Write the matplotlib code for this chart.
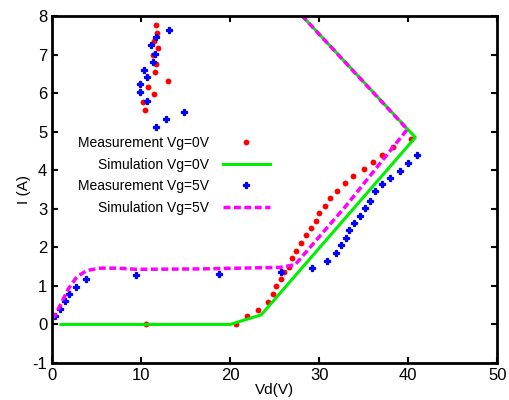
import matplotlib.pyplot as plt
import numpy as np

plt.rcParams['font.family'] = ['Liberation Sans', 'DejaVu Sans']
plt.rcParams['axes.unicode_minus'] = False

# Measurement Vg=0V (red)
meas0_x = [10.6, 20.7, 21.9, 23.1, 24.2, 24.8, 25.2, 25.7, 26.1, 26.6, 27.0, 27.4, 28.0,
           28.5, 29.1, 29.6, 30.0, 30.7, 31.2, 32.0, 32.9, 33.8, 35.0, 36.1, 37.1, 38.3, 40.3,
           11.65, 11.76, 11.4, 11.95, 11.3, 11.65, 11.57, 13.0, 10.8, 11.4, 10.26, 10.4]
meas0_y = [0.0, 0.0, 0.23, 0.38, 0.58, 0.78, 0.99, 1.17, 1.36, 1.50, 1.72, 1.90, 2.12,
           2.31, 2.50, 2.69, 2.90, 3.07, 3.27, 3.47, 3.68, 3.85, 4.04, 4.21, 4.40, 4.59, 4.80,
           7.77, 7.57, 7.36, 7.17, 6.99, 6.75, 6.55, 6.32, 6.15, 5.98, 5.76, 5.56]

# Measurement Vg=5V (blue)
meas5_x = [0.34, 0.9, 1.46, 1.95, 2.66, 3.82, 9.44, 18.7, 25.7, 29.25, 30.9, 31.9, 32.4,
           33.0, 33.4, 33.9, 34.6, 35.1, 35.7, 36.3, 37.1, 38.0, 39.1, 40.0, 41.0,
           13.15, 11.7, 11.12, 11.57, 11.3, 10.37, 10.64, 9.89, 9.89, 10.64, 14.87, 12.77, 11.65]
meas5_y = [0.21, 0.39, 0.60, 0.78, 0.97, 1.17, 1.27, 1.31, 1.37, 1.46, 1.64, 1.85, 2.05,
           2.24, 2.44, 2.62, 2.82, 3.01, 3.21, 3.45, 3.63, 3.80, 3.99, 4.19, 4.39,
           7.64, 7.46, 7.25, 7.01, 6.81, 6.61, 6.41, 6.24, 6.02, 5.80, 5.50, 5.33, 5.13]

# Simulation Vg=0V (green)
sim0_x = [1.0, 20.0, 23.5, 40.8, 26.9]
sim0_y = [0.0, 0.0, 0.25, 4.85, 8.3]

# Simulation Vg=5V (magenta)
sim5_x = [0.0, 0.34, 1.09, 1.83, 2.77, 3.9, 5.4, 7.3, 9.5, 16.6, 25.6, 27.3, 33.1, 39.9, 26.9]
sim5_y = [0.15, 0.23, 0.58, 0.92, 1.23, 1.40, 1.46, 1.46, 1.43, 1.44, 1.48, 1.55, 3.10, 5.06, 8.3]

fig = plt.figure(figsize=(5.1, 4.0), dpi=100)
ax = fig.add_axes([0.102, 0.0925, 0.873, 0.8675])

ax.plot(meas0_x, meas0_y, linestyle='none', marker='o', markersize=4.2, color='red',
        markeredgewidth=0, label='Measurement Vg=0V')
ax.plot(sim0_x, sim0_y, color='#00ee00', linewidth=2.2, label='Simulation Vg=0V')
ax.plot(meas5_x, meas5_y, linestyle='none', marker='P', markersize=4, color='blue',
        markeredgewidth=0.9, label='Measurement Vg=5V')
ax.plot(sim5_x, sim5_y, color='magenta', linewidth=2.5, linestyle=(0, (2, 1)),
        label='Simulation Vg=5V')

ax.set_xlim(0, 50)
ax.set_ylim(-1, 8)
ax.set_xticks([0, 10, 20, 30, 40, 50])
ax.set_yticks(np.arange(-1, 9, 1))
ax.tick_params(direction='in', top=True, right=True, length=4, width=1.5, labelsize=12)
for s in ax.spines.values():
    s.set_linewidth(2)

ax.set_xlabel('Vd(V)', fontsize=11, labelpad=0)
ax.set_ylabel('I (A)', fontsize=11, labelpad=1)

ax.legend(loc='upper left', bbox_to_anchor=(0.03, 0.69), frameon=False,
          markerfirst=False, fontsize=10, handlelength=3.4, labelspacing=0.55,
          handletextpad=1.0)

plt.savefig('out.png', dpi=100)
